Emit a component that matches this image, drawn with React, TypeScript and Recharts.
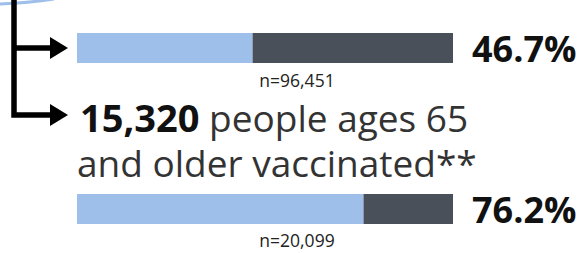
import React from "react";
import { BarChart, Bar, XAxis, YAxis, LabelList } from "recharts";

// ---- data ----
const categories = ["All vaccinated", "Ages 65 and older"];
const vaccinatedPct = [46.7, 76.2];
const sampleSizes = ["n=96,451", "n=20,099"];
const headlineCount = "15,320";
const headlineLine1 = " people ages 65";
const headlineLine2 = "and older vaccinated**";

const LIGHT = "#9dbfea";
const DARK = "#4a5059";
const FONT = "'Open Sans', sans-serif";

const W = 579;
const H = 253;
const BAR_LEFT = 77;
const BAR_RIGHT = 453;
const BAR_H = 30;
const PAD = 12;
const barTops = [33, 194];
const nBaselines = [87, 247];

function rowData(i: number) {
  return [
    {
      name: categories[i],
      vaccinated: vaccinatedPct[i],
      remaining: +(100 - vaccinatedPct[i]).toFixed(1),
    },
  ];
}

const PctLabel = (props: any) => {
  const { x, y, width, height, value } = props;
  return (
    <text
      x={Number(x) + Number(width) + 19}
      y={Number(y) + Number(height) - 1}
      fontFamily={FONT}
      fontWeight={700}
      fontSize={36}
      fill="#111111"
      textAnchor="start"
    >
      {Number(value).toFixed(1)}%
    </text>
  );
};

function RowChart({ i }: { i: number }) {
  return (
    <div style={{ position: "absolute", left: 0, top: barTops[i] - PAD }}>
      <BarChart
        width={W}
        height={BAR_H + 2 * PAD}
        data={rowData(i)}
        layout="vertical"
        margin={{ top: PAD, bottom: PAD, left: BAR_LEFT, right: W - BAR_RIGHT }}
        barCategoryGap={0}
      >
        <XAxis type="number" domain={[0, 100]} hide />
        <YAxis type="category" dataKey="name" hide />
        <Bar dataKey="vaccinated" stackId="a" fill={LIGHT} isAnimationActive={false} />
        <Bar dataKey="remaining" stackId="a" fill={DARK} isAnimationActive={false}>
          <LabelList dataKey="vaccinated" content={PctLabel} />
        </Bar>
      </BarChart>
    </div>
  );
}

export default function App() {
  return (
    <div
      style={{
        position: "absolute",
        left: 0,
        top: 0,
        width: W,
        height: H,
        background: "#ffffff",
        overflow: "hidden",
      }}
    >
      <svg
        width={W}
        height={H}
        style={{ position: "absolute", left: 0, top: 0 }}
      >
        {/* top-left decorative arc */}
        <path d="M -2 4 Q 28 3 54 -1" stroke={LIGHT} strokeWidth={3} fill="none" />
        {/* connector lines */}
        <path
          d="M 14 0 L 14 115 L 52 115 M 14 48 L 52 48"
          stroke="#000"
          strokeWidth={5.5}
          fill="none"
        />
        <path d="M 50 37 L 68 48 L 50 59 Z" fill="#000" />
        <path d="M 50 104 L 68 115 L 50 126 Z" fill="#000" />
        {/* headline */}
        <text x={80} y={132} fontFamily={FONT} fontSize={37} fontWeight={400} fill="#333333">
          <tspan fontWeight={700} fontSize={38} fill="#111111">{headlineCount}</tspan>
          <tspan>{headlineLine1}</tspan>
        </text>
        <text x={77} y={177} fontFamily={FONT} fontSize={37} fontWeight={400} fill="#333333">
          {headlineLine2}
        </text>
        {sampleSizes.map((s, i) => (
          <text
            key={s}
            x={297}
            y={nBaselines[i]}
            fontFamily={FONT}
            fontSize={17.5}
            fill="#222222"
            textAnchor="middle"
          >
            {s}
          </text>
        ))}
      </svg>
      <RowChart i={0} />
      <RowChart i={1} />
    </div>
  );
}
